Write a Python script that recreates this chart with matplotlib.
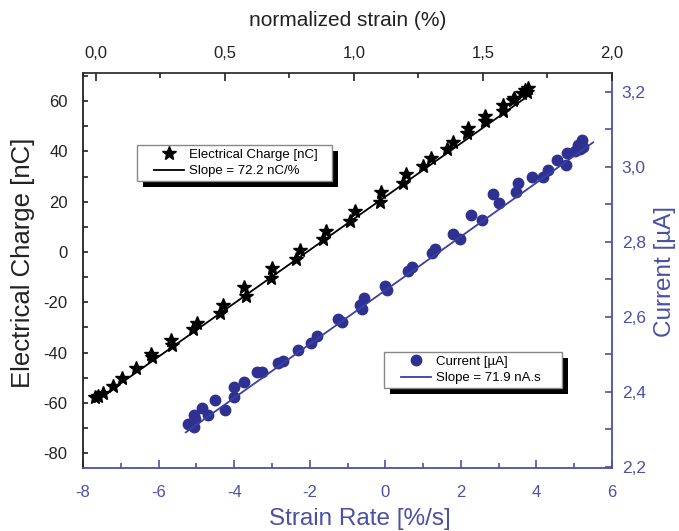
import numpy as np
import matplotlib.pyplot as plt
from matplotlib.lines import Line2D
from matplotlib.patches import Rectangle
from matplotlib.ticker import MultipleLocator
from matplotlib.legend_handler import HandlerLine2D

plt.rcParams['font.family'] = ['Liberation Sans', 'DejaVu Sans']
plt.rcParams['axes.unicode_minus'] = False

# charge vs normalized strain (top / left axes)
strain = [-0.004, 0.009, 0.027, 0.065, 0.102, 0.155, 0.212, 0.216, 0.291, 0.293,
          0.375, 0.390, 0.481, 0.491, 0.574, 0.581, 0.677, 0.681, 0.775, 0.791,
          0.881, 0.891, 0.984, 1.004, 1.101, 1.105, 1.189, 1.202, 1.269, 1.297,
          1.359, 1.383, 1.439, 1.443, 1.508, 1.508, 1.576, 1.579, 1.617, 1.620,
          1.650, 1.663, 1.676, 1.669]
charge = [-57.5, -57.3, -55.9, -53.3, -50.2, -46.0, -40.6, -41.9, -35.0, -37.0,
          -30.7, -28.3, -24.4, -21.1, -14.0, -17.5, -10.5, -6.5, -2.9, 0.8,
          5.1, 8.5, 12.4, 16.3, 20.0, 24.0, 27.3, 30.9, 34.3, 37.5,
          41.0, 43.9, 47.2, 49.2, 52.2, 54.1, 56.2, 58.5, 60.4, 61.1,
          63.1, 64.4, 65.1, 63.7]
fit_strain = [-0.004, 1.689]
fit_charge = [-59.5, 63.1]

# current vs strain rate (bottom / right axes)
rate = [-5.22, -5.12, -5.05, -5.03, -5.05, -4.86, -4.68, -4.50, -4.25, -4.00,
        -4.00, -3.73, -3.40, -3.27, -2.85, -2.70, -2.32, -1.97, -1.82, -1.24,
        -1.15, -0.68, -0.62, -0.57, -0.01, 0.04, 0.61, 0.70, 1.23, 1.32,
        1.80, 1.97, 2.27, 2.55, 2.86, 3.02, 3.46, 3.52, 3.88, 4.18,
        4.31, 4.54, 4.78, 4.82, 5.02, 5.11, 5.20, 5.24, 5.14]
current = [2.314, 2.312, 2.307, 2.327, 2.339, 2.358, 2.337, 2.379, 2.352, 2.387,
           2.413, 2.426, 2.454, 2.453, 2.478, 2.483, 2.512, 2.531, 2.549, 2.594,
           2.587, 2.632, 2.621, 2.651, 2.683, 2.672, 2.723, 2.734, 2.770, 2.781,
           2.821, 2.807, 2.872, 2.857, 2.927, 2.903, 2.934, 2.957, 2.973, 2.974,
           2.992, 3.017, 3.005, 3.037, 3.041, 3.059, 3.072, 3.054, 3.047]
fit_rate = [-5.28, 5.50]
fit_current = [2.292, 3.065]

top_ticks = [0.0, 0.5, 1.0, 1.5, 2.0]
top_labels = ['0,0', '0,5', '1,0', '1,5', '2,0']
right_ticks = [2.2, 2.4, 2.6, 2.8, 3.0, 3.2]
right_labels = ['2,2', '2,4', '2,6', '2,8', '3,0', '3,2']

blue = '#2e3192'
lineblue = '#3a40a0'
axblue = '#4a50a6'
dark = '#222222'

fig = plt.figure(figsize=(6.79, 5.31), dpi=100)
ax = fig.add_axes([83/679, 63/531, 529/679, 395/531])
ax_r = ax.twinx()
ax_t = ax.twiny()

ax.set_xlim(-8, 6)
ax.set_ylim(-85.9, 71.2)
ax_r.set_ylim(2.197, 3.25)
ax_t.set_xlim(-0.05, 2.0)

for a in (ax_r, ax_t):
    for s in a.spines.values():
        s.set_visible(False)
ax.spines['left'].set_color(dark)
ax.spines['top'].set_color('#333333')
ax.spines['bottom'].set_color(axblue)
ax.spines['right'].set_color(axblue)
for s in ax.spines.values():
    s.set_linewidth(1.3)

# bottom axis
ax.xaxis.set_major_locator(MultipleLocator(2))
ax.xaxis.set_minor_locator(MultipleLocator(1))
ax.tick_params(axis='x', which='both', direction='in', colors=axblue, labelsize=12, pad=12, width=1.2)
ax.tick_params(axis='x', which='major', length=6)
ax.tick_params(axis='x', which='minor', length=3.5)

# left axis
ax.yaxis.set_major_locator(MultipleLocator(20))
ax.yaxis.set_minor_locator(MultipleLocator(10))
ax.tick_params(axis='y', which='both', direction='in', colors=dark, labelsize=12, pad=11, length=3.5, width=1.2)

# right axis
ax_r.set_yticks(right_ticks)
ax_r.set_yticklabels(right_labels)
ax_r.yaxis.set_minor_locator(MultipleLocator(0.1))
ax_r.tick_params(axis='y', which='both', direction='in', colors=axblue, labelsize=12.5, pad=7, length=5, width=1.2)

# top axis
ax_t.set_xticks(top_ticks)
ax_t.set_xticklabels(top_labels)
ax_t.xaxis.set_minor_locator(MultipleLocator(0.25))
ax_t.tick_params(axis='x', which='both', direction='in', colors=dark, labelsize=12, pad=8.5, width=1.2)
ax_t.tick_params(axis='x', which='major', length=6)
ax_t.tick_params(axis='x', which='minor', length=3.5)

ax.set_xlabel('Strain Rate [%/s]', color=axblue, fontsize=17.5, labelpad=6)
ax.xaxis.label.set_x(0.524)
ax.set_ylabel('Electrical Charge [nC]', color=dark, fontsize=18.5, labelpad=6)
ax.yaxis.label.set_y(0.52)
ax_r.set_ylabel('Current [µA]', color=axblue, fontsize=17.5, labelpad=6)
ax_r.yaxis.label.set_y(0.497)
ax_t.set_xlabel('normalized strain (%)', color=dark, fontsize=15, labelpad=14.5)

ax_t.plot(strain, charge, ls='none', marker='*', ms=10, color='k')
ax_t.plot(fit_strain, fit_charge, color='k', lw=1.3)
ax_r.plot(rate, current, ls='none', marker='o', ms=7.5, color=blue)
ax_r.plot(fit_rate, fit_current, color=lineblue, lw=1.3)

h1 = [Line2D([], [], ls='none', marker='*', ms=10, color='k'),
      Line2D([], [], color='k', lw=1.3)]
h2 = [Line2D([], [], ls='none', marker='o', ms=7.5, color=blue),
      Line2D([], [], color=lineblue, lw=1.3)]
leg_kw = dict(loc='upper left', borderaxespad=0, fontsize=9.5, fancybox=False,
              framealpha=1, edgecolor='#888888', labelspacing=0.35,
              handlelength=3.3, handletextpad=0.4, borderpad=0.25, mode='expand',
              handler_map={Line2D: HandlerLine2D(xpad=1.05)})
leg1 = fig.legend(h1, ['Electrical Charge [nC]', 'Slope = 72.2 nC/%'],
                  bbox_to_anchor=(137/679, 1 - 145/531, 195/679, 0), **leg_kw)
leg2 = fig.legend(h2, ['Current [µA]', 'Slope = 71.9 nA.s'],
                  bbox_to_anchor=(384/679, 1 - 352/531, 178/679, 0), **leg_kw)

# black drop shadows behind the legend boxes
fig.canvas.draw()
inv = fig.transFigure.inverted()
for leg in (leg1, leg2):
    bb = leg.get_frame().get_window_extent()
    x0, y0 = inv.transform((bb.x0 + 6, bb.y0 - 6))
    x1, y1 = inv.transform((bb.x1 + 6, bb.y1 - 6))
    fig.add_artist(Rectangle((x0, y0), x1 - x0, y1 - y0, transform=fig.transFigure,
                             facecolor='k', edgecolor='none', zorder=4))

fig.savefig('out.png', dpi=100)
